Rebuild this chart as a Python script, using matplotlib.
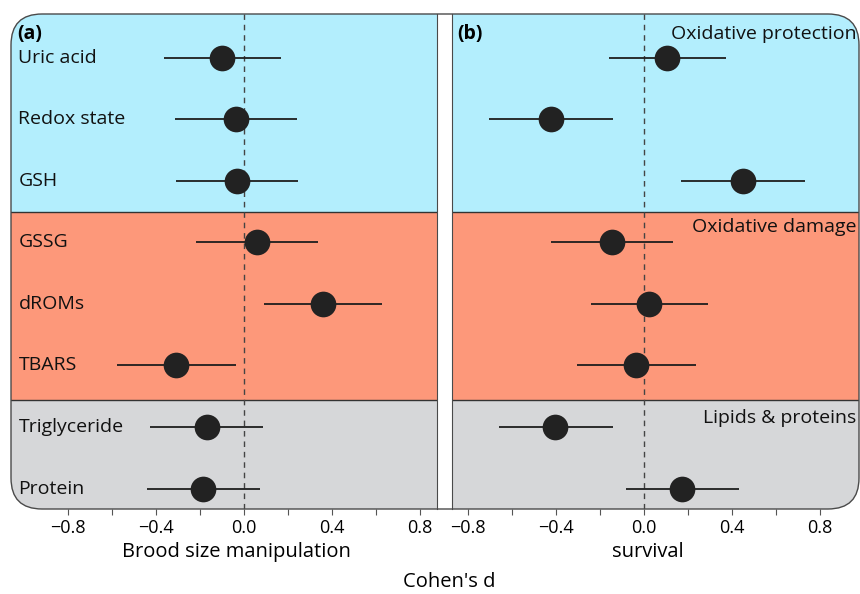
import matplotlib
matplotlib.use("Agg")
import matplotlib.pyplot as plt
from matplotlib.patches import FancyBboxPatch

plt.rcParams['font.family'] = ['Open Sans', 'DejaVu Sans']

# measures, top to bottom
labels = ['Uric acid', 'Redox state', 'GSH', 'GSSG', 'dROMs', 'TBARS',
          'Triglyceride', 'Protein']
rows = [8, 7, 6, 5, 4, 3, 2, 1]

# (a) brood size manipulation
brood_d = [-0.10, -0.038, -0.032, 0.059, 0.359, -0.308, -0.17, -0.185]
brood_lo = [-0.364, -0.314, -0.309, -0.217, 0.092, -0.579, -0.429, -0.442]
brood_hi = [0.168, 0.24, 0.247, 0.338, 0.629, -0.036, 0.085, 0.071]

# (b) survival
surv_d = [0.106, -0.424, 0.448, -0.144, 0.024, -0.035, -0.403, 0.174]
surv_lo = [-0.158, -0.703, 0.17, -0.423, -0.241, -0.305, -0.66, -0.082]
surv_hi = [0.373, -0.142, 0.73, 0.133, 0.289, 0.236, -0.142, 0.43]

groups = ['Oxidative protection', 'Oxidative damage', 'Lipids & proteins']
group_span = [(5.5, 8.709), (2.43, 5.5), (0.667, 2.43)]
group_col = ['#b3eefd', '#fd987a', '#d6d7d9']
group_text_y = [8.39, 5.25, 2.15]

major = [-0.8, -0.4, 0.0, 0.4, 0.8]
major_lab = ['\u22120.8', '\u22120.4', '0.0', '0.4', '0.8']
minor = [-0.6, -0.2, 0.2, 0.6]

W, H = 860, 594
fig = plt.figure(figsize=(W / 100, H / 100), dpi=100)

top, bot = 14, 509
ax_a = fig.add_axes([11 / W, 1 - bot / H, (437 - 11) / W, (bot - top) / H])
ax_b = fig.add_axes([452 / W, 1 - bot / H, (859 - 452) / W, (bot - top) / H])

# rounded outer frame (inches, so the corners stay round)
def frame(**kw):
    return FancyBboxPatch((0.11, (H - bot) / 100), 8.48, (bot - top) / 100,
                          boxstyle='round,pad=0,rounding_size=0.31',
                          transform=fig.dpi_scale_trans, **kw)

clip = frame(facecolor='none', edgecolor='none')
edge = '#4a4a4a'

for ax, d, lo, hi, xlim in [(ax_a, brood_d, brood_lo, brood_hi, (-1.059, 0.877)),
                            (ax_b, surv_d, surv_lo, surv_hi, (-0.873, 0.977))]:
    for (y0, y1), c in zip(group_span, group_col):
        p = ax.axhspan(y0, y1, color=c, lw=0, zorder=0)
        p.set_clip_path(clip)
    for yb in [5.5, 2.43]:
        ax.axhline(yb, color='#333333', lw=1.0, zorder=1)
    zl = ax.axvline(0, color='#444444', lw=1.0, ls=(0, (4, 3.5)), zorder=1)
    zl.set_clip_path(clip)
    ax.hlines(rows, lo, hi, color='#1e1e1e', lw=1.3, zorder=2)
    ax.plot(d, rows, 'o', ms=18.5, color='#222222', mec='none', zorder=3)
    ax.set_xlim(*xlim)
    ax.set_ylim(0.667, 8.709)
    ax.set_yticks([])
    ax.set_xticks(major)
    ax.set_xticklabels(major_lab)
    ax.set_xticks(minor, minor=True)
    ax.tick_params(axis='x', which='both', direction='out', length=4,
                   width=0.8, color='#555555', labelsize=13, pad=3)
    ax.set_facecolor('none')
    for s in ['top', 'bottom', 'left', 'right']:
        ax.spines[s].set_visible(False)

ax_a.spines['right'].set_visible(True)
ax_a.spines['right'].set_color(edge)
ax_b.spines['left'].set_visible(True)
ax_b.spines['left'].set_color(edge)

for lab, r in zip(labels, rows):
    ax_a.text(-1.025, r, lab, fontsize=14, va='center', ha='left', color='#111111')

for g, gy in zip(groups, group_text_y):
    ax_b.text(0.965, gy, g, fontsize=14, va='center', ha='right', color='#111111')

ax_a.text(-1.03, 8.38, '(a)', fontsize=14, fontweight='bold', va='center', ha='left')
ax_b.text(-0.85, 8.38, '(b)', fontsize=14, fontweight='bold', va='center', ha='left')

fig.add_artist(frame(facecolor='none', edgecolor=edge, lw=1.0, zorder=5))

fig.text(236 / W, 1 - 552 / H, 'Brood size manipulation', fontsize=14.5,
         ha='center', va='center')
fig.text(648 / W, 1 - 552 / H, 'survival', fontsize=14.5, ha='center', va='center')
fig.text(449 / W, 1 - 582 / H, "Cohen's d", fontsize=14.5, ha='center', va='center')

fig.savefig('out.png', dpi=100)
